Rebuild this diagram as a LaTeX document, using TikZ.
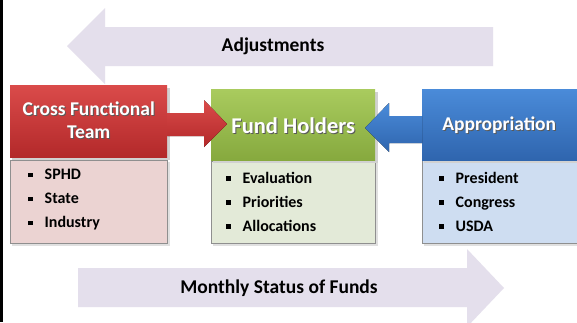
\documentclass[tikz,border=0pt]{standalone}
\usepackage{fontspec}
\setmainfont{Carlito}[BoldFont=Carlito Bold]
\definecolor{arrowlav}{HTML}{E4DFEC}
\definecolor{redtop}{HTML}{DA4B4A}
\definecolor{redbot}{HTML}{B3292A}
\definecolor{greentop}{HTML}{A9CB5E}
\definecolor{greenbot}{HTML}{86A93E}
\definecolor{bluetop}{HTML}{4A8BD9}
\definecolor{bluebot}{HTML}{2F65AE}
\definecolor{pinklow}{HTML}{EBD3D2}
\definecolor{greenlow}{HTML}{E3EAD8}
\definecolor{bluelow}{HTML}{CEDDF1}
\definecolor{lowborder}{HTML}{8F8F8F}
\newcommand\shtxt[1]{\leavevmode\rlap{\hspace{1pt}\raisebox{-1pt}{\textcolor{black!65}{#1}}}#1}
\newcommand\sqb{\raisebox{2.5pt}{\rule{4.5pt}{4.5pt}}\hspace{12pt}}
\tikzset{
  bigarrow/.style={fill=arrowlav, draw=none},
  headbox/.style={draw=none, inner sep=0pt},
  lowbox/.style={draw=lowborder, line width=1.2pt, inner sep=0pt},
  headtxt/.style={text=white, align=center},
  listtxt/.style={font=\bfseries\fontsize{16}{24}\selectfont, align=left, anchor=north west, text=black, inner sep=0pt},
  lbl/.style={font=\bfseries\fontsize{19.5}{22}\selectfont, text=black}
}
\begin{document}
\begin{tikzpicture}[x=1pt,y=-1pt]
\useasboundingbox (0,0) rectangle (577,322);
\fill[white] (0,0) rectangle (577,322);
\fill[black] (0,0) rectangle (2.5,322);
% top arrow
\fill[bigarrow] (493,27) -- (105,27) -- (105,8) -- (67,46) -- (105,84) -- (105,66) -- (493,66) -- cycle;
\node[lbl] (adj) at (273,46) {Adjustments};
% bottom arrow
\fill[bigarrow] (78,268) -- (467,268) -- (467,249) -- (504,288) -- (467,327) -- (467,307) -- (78,307) -- cycle;
\node[lbl] (msf) at (279,288) {Monthly Status of Funds};
% lower boxes
\fill[black!12] (12,162) rectangle (170,246);
\node[lowbox, fill=pinklow, minimum width=157pt, minimum height=83pt, anchor=north west] (cftlow) at (10,160) {};
\fill[black!12] (213,163) rectangle (378,246);
\node[lowbox, fill=greenlow, minimum width=164pt, minimum height=82pt, anchor=north west] (fhlow) at (211,161) {};
\fill[black!12] (424,162) rectangle (579,246);
\node[lowbox, fill=bluelow, minimum width=160pt, minimum height=83pt, anchor=north west] (aplow) at (422,160) {};
% header boxes
\fill[black!18] (12,88) rectangle (170,160);
\node[headbox, top color=redtop, bottom color=redbot, minimum width=157pt, minimum height=72pt, anchor=north west] (cft) at (10,85) {};
\fill[black!18] (213,92) rectangle (378,163);
\node[headbox, top color=greentop, bottom color=greenbot, minimum width=164pt, minimum height=71pt, anchor=north west] (fh) at (211,89) {};
\fill[black!18] (424,92) rectangle (579,163);
\node[headbox, top color=bluetop, bottom color=bluebot, minimum width=160pt, minimum height=71pt, anchor=north west] (ap) at (422,89) {};
% connecting arrows
\fill[top color=redtop, bottom color=redbot] (cft.east |- 0,113) -- (204,113) -- (204,100) -- (227,124) -- (204,147) -- (204,136) -- (cft.east |- 0,136) -- cycle;
\fill[top color=bluetop, bottom color=bluebot] (ap.west |- 0,116) -- (389,116) -- (389,103) -- (365,128) -- (389,152) -- (389,143) -- (ap.west |- 0,143) -- cycle;
% header texts
\node[headtxt, font=\bfseries\fontsize{19.5}{23}\selectfont] (cftt) at (cft.center) {\shtxt{Cross Functional}\\\shtxt{Team}};
\node[headtxt, font=\bfseries\fontsize{22.5}{26}\selectfont] (fht) at ([yshift=-1pt]fh.center) {\shtxt{Fund Holders}};
\node[headtxt, font=\bfseries\fontsize{19.5}{23}\selectfont] (apt) at ([xshift=-3pt,yshift=-1pt]ap.center) {\shtxt{Appropriation}};
% lists
\node[listtxt] (cftl) at (28,169) {\sqb SPHD\\\sqb State\\\sqb Industry};
\node[listtxt] (fhl) at (226,172) {\sqb Evaluation\\\sqb Priorities\\\sqb Allocations};
\node[listtxt] (apl) at (439,172) {\sqb President\\\sqb Congress\\\sqb USDA};
\end{tikzpicture}
\end{document}
